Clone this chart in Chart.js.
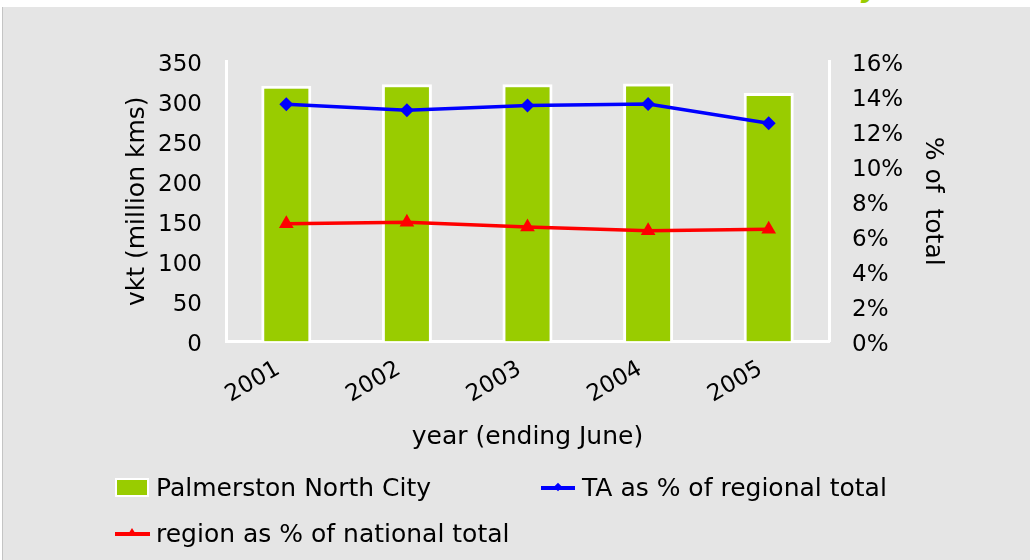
<!DOCTYPE html>
<html>
<head>
<meta charset="utf-8">
<script src="https://cdn.jsdelivr.net/npm/chart.js@4/dist/chart.umd.min.js"></script>
<style>
  html, body { margin:0; padding:0; background:#fff; width:1030px; height:560px; overflow:hidden; font-family:"DejaVu Sans", Verdana, sans-serif; }
  #title { position:absolute; left:0; top:0; width:1030px; height:7px; overflow:hidden; }
  #title span { position:absolute; left:38px; top:-24px; transform:translateY(-4px); font:bold italic 28px "DejaVu Sans", sans-serif; line-height:32px; color:#99CC00; white-space:nowrap; }
  #bg { position:absolute; left:2px; top:7px; width:1028px; height:553px; background:#E5E5E5; border-left:1px solid #C4C4C4; box-sizing:border-box; }
  #c { position:absolute; left:0; top:0; }
  .lg { position:absolute; font-size:25px; line-height:30px; color:#000; white-space:nowrap; }
  .sw { position:absolute; }
</style>
</head>
<body>
<div id="title"><span>Vehicle kilometres travelled in Palmerston North City</span></div>
<div id="bg"></div>
<canvas id="c" width="1030" height="560"></canvas>

<div class="sw" style="left:115px;top:478px;width:34px;height:19px;box-sizing:border-box;border:2px solid #fff;background:#99CC00;"></div>
<div class="lg" style="left:156px;top:473px;">Palmerston North City</div>

<div class="sw" style="left:541px;top:486px;width:34px;height:3.5px;background:#0000FF;"></div>
<div class="sw" style="left:555px;top:484px;width:6px;height:6px;background:#0000FF;transform:rotate(45deg);"></div>
<div class="lg" style="left:582px;top:473px;">TA as % of regional total</div>

<div class="sw" style="left:115px;top:532px;width:35px;height:3.5px;background:#FF0000;"></div>
<div class="sw" style="left:127px;top:528px;width:0;height:0;border-left:5px solid transparent;border-right:5px solid transparent;border-bottom:8px solid #FF0000;"></div>
<div class="lg" style="left:156px;top:519px;">region as % of national total</div>

<script>
// ---- data ----
const years = ['2001', '2002', '2003', '2004', '2005'];
const vktPalmerston = [319, 321, 321, 322, 310];           // million kms (left axis)
const taPctOfRegional = [13.53, 13.19, 13.46, 13.55, 12.45]; // % (right axis)
const regionPctOfNational = [6.72, 6.80, 6.53, 6.32, 6.40];  // % (right axis)
const leftAxisRange = [0, 350];
const leftAxisStep = 50;
const rightAxisRange = [0, 16];
const rightAxisStep = 2;

const FAM = '"DejaVu Sans", Verdana, sans-serif';
Chart.defaults.font.family = FAM;
Chart.defaults.color = '#000';

new Chart(document.getElementById('c'), {
  data: {
    labels: years,
    datasets: [
      {
        type: 'bar',
        label: 'Palmerston North City',
        data: vktPalmerston,
        yAxisID: 'y',
        backgroundColor: '#99CC00',
        borderColor: '#FFFFFF',
        borderWidth: 3,
        borderSkipped: 'start',
        categoryPercentage: 1,
        barPercentage: 0.415,
        order: 2
      },
      {
        type: 'line',
        label: 'TA as % of regional total',
        data: taPctOfRegional,
        yAxisID: 'y1',
        borderColor: '#0000FF',
        backgroundColor: '#0000FF',
        borderWidth: 3.5,
        pointStyle: 'rectRot',
        pointRadius: 4.5,
        tension: 0,
        order: 1
      },
      {
        type: 'line',
        label: 'region as % of national total',
        data: regionPctOfNational,
        yAxisID: 'y1',
        borderColor: '#FF0000',
        backgroundColor: '#FF0000',
        borderWidth: 3.5,
        pointStyle: 'triangle',
        pointRadius: 5,
        tension: 0,
        order: 1
      }
    ]
  },
  options: {
    responsive: false,
    animation: false,
    devicePixelRatio: 1,
    layout: { padding: { top: 61, left: 0, right: 0, bottom: 0 } },
    plugins: { legend: { display: false }, tooltip: { enabled: false }, title: { display: false } },
    scales: {
      x: {
        grid: { display: false, drawTicks: false },
        border: { color: '#FFFFFF', width: 3 },
        ticks: { font: { size: 23 }, color: '#000', minRotation: 30, maxRotation: 30, padding: 14, labelOffset: -8, autoSkip: false },
        title: { display: true, text: 'year (ending June)', font: { size: 25 }, color: '#000', padding: { top: 0, bottom: 107.6 } },
        afterFit: s => { s.height = 218.5; }
      },
      y: {
        position: 'left',
        min: leftAxisRange[0], max: leftAxisRange[1],
        grid: { display: false, drawTicks: false },
        border: { color: '#FFFFFF', width: 3 },
        ticks: { stepSize: leftAxisStep, font: { size: 23 }, color: '#000', padding: 24, labelOffset: 4 },
        title: { display: true, text: 'vkt (million kms)', font: { size: 25 }, color: '#000', padding: { top: 122.6, bottom: 0 } },
        afterFit: s => { s.width = 226; }
      },
      y1: {
        position: 'right',
        min: rightAxisRange[0], max: rightAxisRange[1],
        grid: { display: false, drawTicks: false },
        border: { color: '#FFFFFF', width: 3 },
        ticks: { stepSize: rightAxisStep, font: { size: 23 }, color: '#000', padding: 23, labelOffset: 4, callback: v => v + '%' },
        title: { display: true, text: '% of  total', font: { size: 25 }, color: '#000', padding: { top: 82.6, bottom: 0 } },
        afterFit: s => { s.width = 201; }
      }
    }
  }
});
</script>
</body>
</html>
